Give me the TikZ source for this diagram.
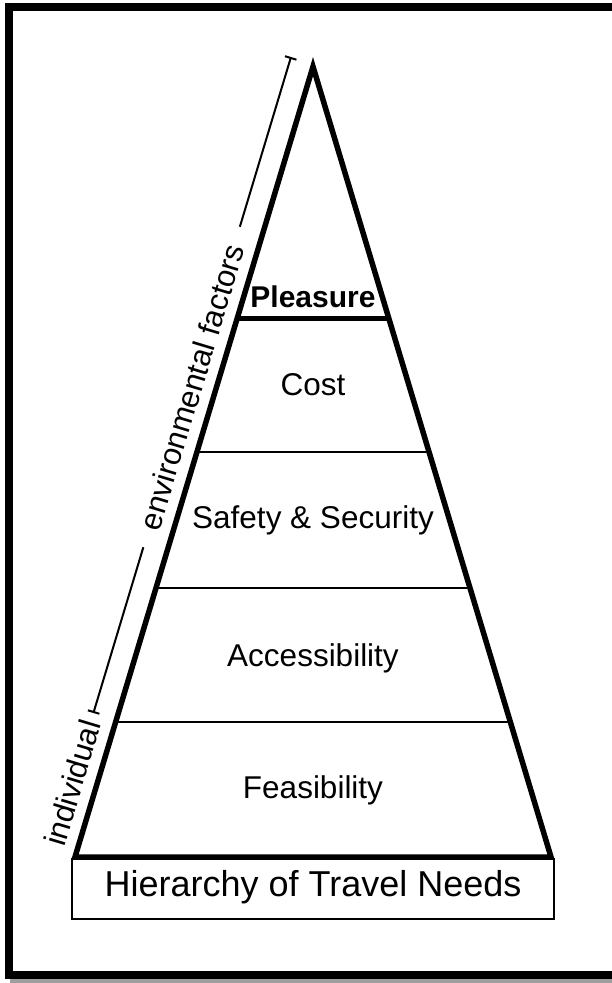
\documentclass[tikz,border=0pt]{standalone}
\usepackage{fontspec}
\setmainfont{Liberation Sans}
\usetikzlibrary{arrows.meta, calc}

\begin{document}
\begin{tikzpicture}[x=1pt, y=-1pt, font=\fontsize{31.5}{36}\selectfont,
    divider/.style={line width=2pt},
    sidelabel/.style={font=\fontsize{31}{36}\selectfont, rotate=73.24},
    sideline/.style={line width=2pt}]

  \useasboundingbox (0,0) rectangle (612,983);
  \clip (0,0) rectangle (612,983);

  % frame with its shadow
  \fill[black!38] (10,8) rectangle (640,983);
  \draw[line width=8pt, fill=white] (9,7) rectangle (635,974.5);

  \coordinate (apex) at (313,66.6);
  \coordinate (bl)   at (75,857);
  \coordinate (br)   at (551,857);

  % base label box
  \node[draw, line width=2pt, minimum width=482pt, minimum height=60pt,
        anchor=north, inner sep=0pt] (title) at (313,858) {};
  \node[anchor=base, font=\fontsize{36}{40}\selectfont] (titletext) at (313,896) {Hierarchy of Travel Needs};

  % layers
  \draw[line width=5pt] ($(apex)!0.3193!(bl)$) -- ($(apex)!0.3193!(br)$);
  \foreach \t in {0.4878, 0.6599, 0.8294}
    \draw[divider] ($(apex)!\t!(bl)$) -- ($(apex)!\t!(br)$);

  \draw[line width=5.5pt, line join=miter] (apex) -- (br) -- (bl) -- cycle;

  \node[anchor=base, font=\fontsize{30}{36}\selectfont\bfseries] (pleasure) at (313,307) {Pleasure};
  \node[anchor=base] (cost)   at (313,395) {Cost};
  \node[anchor=base] (safety) at (313,528) {Safety \& Security};
  \node[anchor=base] (access) at (313,666) {Accessibility};
  \node[anchor=base] (feas)   at (313,798) {Feasibility};

  % scale along the left side
  \coordinate (toptick) at (291,57);
  \coordinate (lowtick) at (93.4,713);
  \node[sidelabel, inner xsep=19pt] (env) at (191.6,387) {environmental factors};
  \node[sidelabel, anchor=east, inner xsep=8pt] (indiv) at (lowtick) {individual};
  \draw[sideline, {Bar[width=12pt]}-] (toptick) -- (env.east);
  \draw[sideline, -{Bar[width=12pt]}] (env.west) -- (lowtick);

\end{tikzpicture}
\end{document}
